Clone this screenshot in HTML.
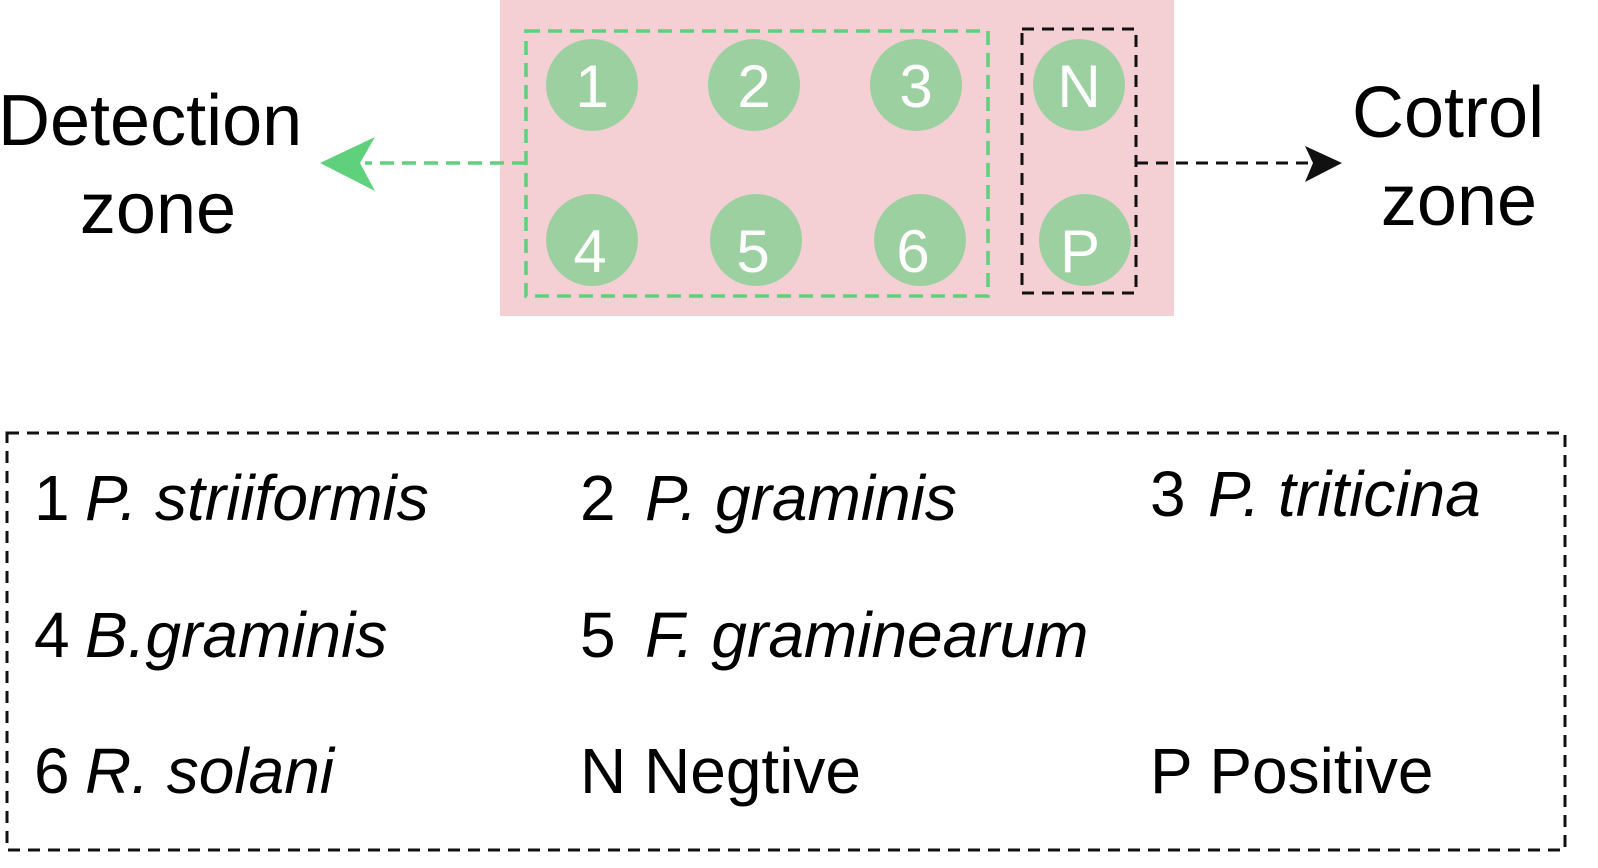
<!DOCTYPE html>
<html><head><meta charset="utf-8"><style>
html,body{margin:0;padding:0;background:#fff;}
svg{display:block;font-family:"Liberation Sans",Arial,sans-serif;}
</style></head><body>
<svg width="1598" height="868" viewBox="0 0 1598 868">
<rect x="500" y="0" width="674" height="316" fill="#f4d0d5"/>
<rect x="526" y="31" width="462" height="265" fill="none" stroke="#5fd07c" stroke-width="3.5" stroke-dasharray="14,8"/>
<rect x="1022" y="29" width="114" height="264" fill="none" stroke="#111" stroke-width="3" stroke-dasharray="12,8"/>
<g fill="#9dd0a0">
<circle cx="592" cy="85" r="46"/><circle cx="754" cy="85" r="46"/><circle cx="916" cy="85" r="46"/><circle cx="1079" cy="85" r="46"/>
<circle cx="592" cy="240" r="46"/><circle cx="756" cy="240" r="46"/><circle cx="920" cy="240" r="46"/><circle cx="1085" cy="240" r="46"/>
</g>
<g fill="#fff" font-size="60" text-anchor="middle">
<text x="592" y="107">1</text><text x="754" y="107">2</text><text x="916" y="107">3</text><text x="1079" y="107">N</text>
<text x="590" y="272">4</text><text x="753" y="272">5</text><text x="913" y="272">6</text><text x="1080" y="272">P</text>
</g>
<line x1="526" y1="163" x2="365" y2="163" stroke="#5fd07c" stroke-width="3.5" stroke-dasharray="14,8"/>
<path d="M320,163 L375,137 L360,163 L375,191 Z" fill="#5fd07c"/>
<line x1="1136" y1="163" x2="1310" y2="163" stroke="#111" stroke-width="3" stroke-dasharray="12,8"/>
<path d="M1342,163 L1305,146 L1313,163 L1305,182 Z" fill="#111"/>
<g font-size="72" fill="#000">
<text x="-2" y="145">Detection</text>
<text x="158" y="233" text-anchor="middle">zone</text>
<text x="1352" y="137">Cotrol</text>
<text x="1459" y="225" text-anchor="middle">zone</text>
</g>
<rect x="7" y="433" width="1558" height="417" fill="none" stroke="#111" stroke-width="3" stroke-dasharray="12,8"/>
<g font-size="64" fill="#000">
<text x="34" y="520">1<tspan x="85" font-style="italic">P. striiformis</tspan></text>
<text x="580" y="520">2<tspan x="645" font-style="italic">P. graminis</tspan></text>
<text x="1150" y="516">3<tspan x="1208" font-style="italic">P. triticina</tspan></text>
<text x="34" y="657">4<tspan x="85" font-style="italic">B.graminis</tspan></text>
<text x="580" y="657">5<tspan x="645" font-style="italic">F. graminearum</tspan></text>
<text x="34" y="793">6<tspan x="85" font-style="italic">R. solani</tspan></text>
<text x="580" y="793">N Negtive</text>
<text x="1150" y="793">P Positive</text>
</g>
</svg>
</body></html>
